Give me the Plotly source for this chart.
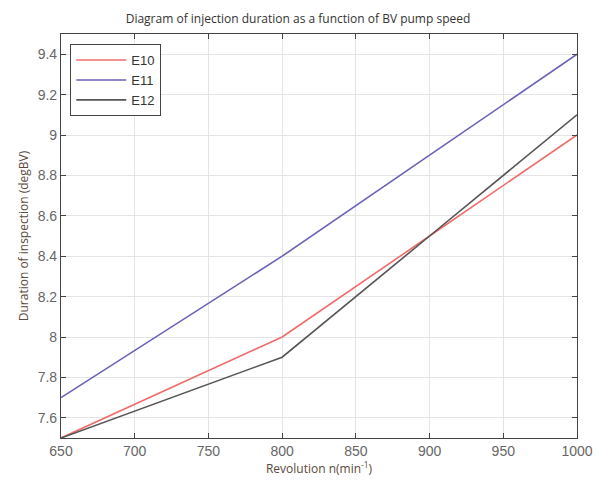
import plotly.graph_objects as go

# Pump speed (min^-1) and injection duration (degBV) per engine variant
speed = [650, 800, 900, 1000]
e10 = [7.5, 8.0, 8.5, 9.0]
e11 = [7.7, 8.4, 8.9, 9.4]
e12 = [7.5, 7.9, 8.5, 9.1]

x_ticks = [650, 700, 750, 800, 850, 900, 950, 1000]
y_ticks = [7.6, 7.8, 8.0, 8.2, 8.4, 8.6, 8.8, 9.0, 9.2, 9.4]
y_tick_text = ["7.6", "7.8", "8", "8.2", "8.4", "8.6", "8.8", "9", "9.2", "9.4"]

series = [("E10", e10, "#f26b6b"), ("E11", e11, "#6a62b8"), ("E12", e12, "#555555")]

fig = go.Figure()
for name, vals, color in series:
    fig.add_trace(go.Scatter(x=speed, y=vals, mode="lines", name=name,
                             line=dict(color=color, width=1.6)))

axis_common = dict(
    showline=True, linecolor="#444444", linewidth=1.2, mirror="ticks",
    ticks="inside", ticklen=5, tickcolor="#444444",
    showgrid=True, gridcolor="#e4e4e4", gridwidth=1, zeroline=False,
    automargin=False,
    tickfont=dict(family="Liberation Sans, Arial", size=14, color="#666666"),
)

fig.update_layout(
    width=596, height=484,
    margin=dict(l=61, r=19, t=34, b=46),
    paper_bgcolor="white", plot_bgcolor="white",
    title=dict(text="Diagram of injection duration as a function of BV pump speed",
               x=0.5, xanchor="center", y=0.962, yanchor="middle",
               font=dict(family="Open Sans", size=12, color="#333333")),
    xaxis=dict(range=[650, 1000], tickvals=x_ticks,
               title=dict(text="Revolution n(min<sup>-1</sup>)", standoff=4,
                          font=dict(family="Open Sans", size=12, color="#5a4a3a")),
               **axis_common),
    yaxis=dict(range=[7.5, 9.5], tickvals=y_ticks, ticktext=y_tick_text,
               title=dict(text="Duration of inspection (degBV)", standoff=6,
                          font=dict(family="Open Sans", size=12, color="#5a4a3a")),
               **axis_common),
    legend=dict(x=0.018, y=0.975, xanchor="left", yanchor="top",
                bgcolor="white", bordercolor="#444444", borderwidth=1,
                font=dict(family="Liberation Sans, Arial", size=13, color="#333333"),
                itemwidth=50, tracegroupgap=0),
    showlegend=True,
)

fig.write_html("out.html")
